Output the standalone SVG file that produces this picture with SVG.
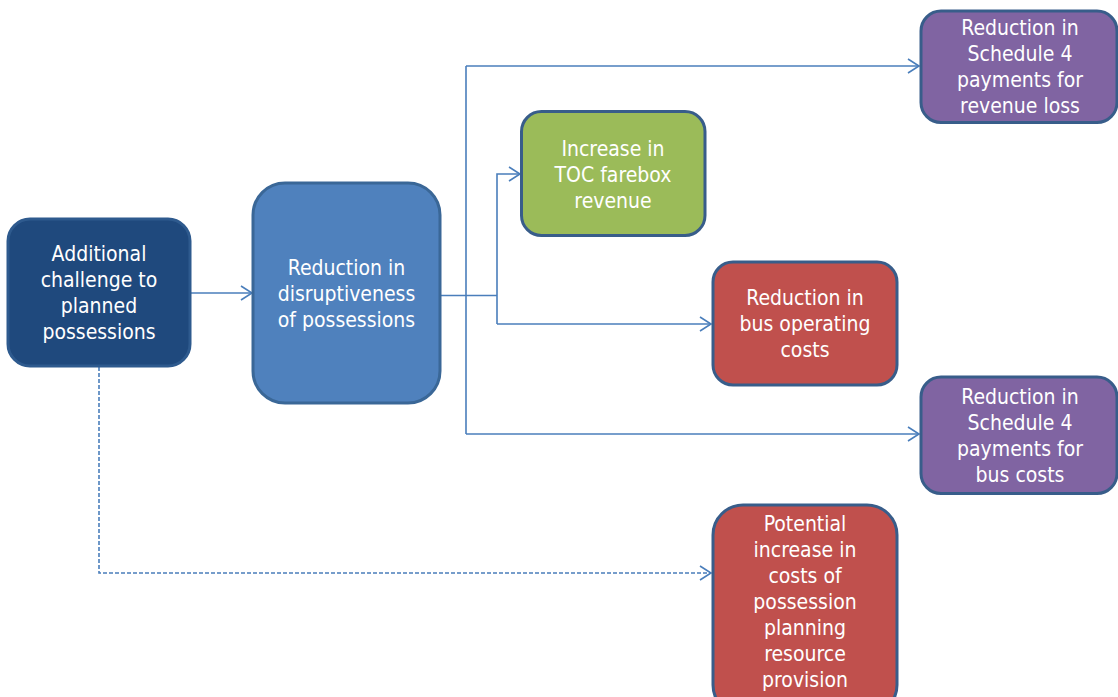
<svg xmlns="http://www.w3.org/2000/svg" width="1118" height="697" viewBox="0 0 1118 697">
  <defs>
    <marker id="arr" markerWidth="14" markerHeight="18" refX="12" refY="8" orient="auto" markerUnits="userSpaceOnUse">
      <path d="M1,1 L12,8 L1,15" fill="none" stroke="#4A7EBB" stroke-width="1.6"/>
    </marker>
  </defs>
  <style>
    .box { stroke: #385D8A; stroke-width: 3; }
    .t { font-family: "DejaVu Sans Condensed", "DejaVu Sans", "Liberation Sans", sans-serif; font-stretch: condensed; font-size: 21px; fill: #FFFFFF; text-anchor: middle; }
    .c { fill: none; stroke: #4A7EBB; stroke-width: 1.6; }
    .d { fill: none; stroke: #4A7EBB; stroke-width: 1.6; stroke-dasharray: 4 2; }
  </style>
  <rect width="1118" height="697" fill="#FFFFFF"/>

  <g id="connectors">
    <path class="c" d="M190,293 L252,293" marker-end="url(#arr)"/>
    <path class="c" d="M440,295.5 L497,295.5"/>
    <path class="c" d="M497,324 L497,174 L520,174" marker-end="url(#arr)"/>
    <path class="c" d="M497,324 L711,324" marker-end="url(#arr)"/>
    <path class="c" d="M466,66 L466,434"/>
    <path class="c" d="M466,66 L919,66" marker-end="url(#arr)"/>
    <path class="c" d="M466,434 L919,434" marker-end="url(#arr)"/>
    <path class="d" d="M99,367 L99,573 L711,573" marker-end="url(#arr)"/>
  </g>

  <g id="node-additional-challenge">
    <rect x="8" y="219" width="182" height="147" rx="22" fill="#1F497D" stroke="#2E5A8E" stroke-width="3"/>
    <text class="t" x="99" y="261">Additional</text>
    <text class="t" x="99" y="287">challenge to</text>
    <text class="t" x="99" y="313">planned</text>
    <text class="t" x="99" y="339">possessions</text>
  </g>

  <g id="node-reduction-disruptiveness">
    <rect x="253" y="183" width="187" height="220" rx="32" fill="#4F81BD" stroke="#3A6797" stroke-width="3"/>
    <text class="t" x="346.5" y="275">Reduction in</text>
    <text class="t" x="346.5" y="301">disruptiveness</text>
    <text class="t" x="346.5" y="327">of possessions</text>
  </g>

  <g id="node-toc-farebox">
    <rect class="box" x="521.5" y="111.5" width="183.5" height="124" rx="20" fill="#9BBB59"/>
    <text class="t" x="613" y="156">Increase in</text>
    <text class="t" x="613" y="182">TOC farebox</text>
    <text class="t" x="613" y="208">revenue</text>
  </g>

  <g id="node-bus-operating">
    <rect class="box" x="713" y="262" width="184" height="123" rx="20" fill="#C0504D"/>
    <text class="t" x="805" y="305">Reduction in</text>
    <text class="t" x="805" y="331">bus operating</text>
    <text class="t" x="805" y="357">costs</text>
  </g>

  <g id="node-schedule4-revenue">
    <rect class="box" x="921" y="11" width="196" height="111.5" rx="20" fill="#8064A2"/>
    <text class="t" x="1020" y="35">Reduction in</text>
    <text class="t" x="1020" y="61">Schedule 4</text>
    <text class="t" x="1020" y="87">payments for</text>
    <text class="t" x="1020" y="113">revenue loss</text>
  </g>

  <g id="node-schedule4-bus">
    <rect class="box" x="921" y="377" width="196" height="116.5" rx="20" fill="#8064A2"/>
    <text class="t" x="1020" y="404">Reduction in</text>
    <text class="t" x="1020" y="430">Schedule 4</text>
    <text class="t" x="1020" y="456">payments for</text>
    <text class="t" x="1020" y="482">bus costs</text>
  </g>

  <g id="node-possession-planning">
    <rect class="box" x="713" y="505" width="184" height="210" rx="30" fill="#C0504D"/>
    <text class="t" x="805" y="531">Potential</text>
    <text class="t" x="805" y="557">increase in</text>
    <text class="t" x="805" y="583">costs of</text>
    <text class="t" x="805" y="609">possession</text>
    <text class="t" x="805" y="635">planning</text>
    <text class="t" x="805" y="661">resource</text>
    <text class="t" x="805" y="687">provision</text>
  </g>
</svg>
